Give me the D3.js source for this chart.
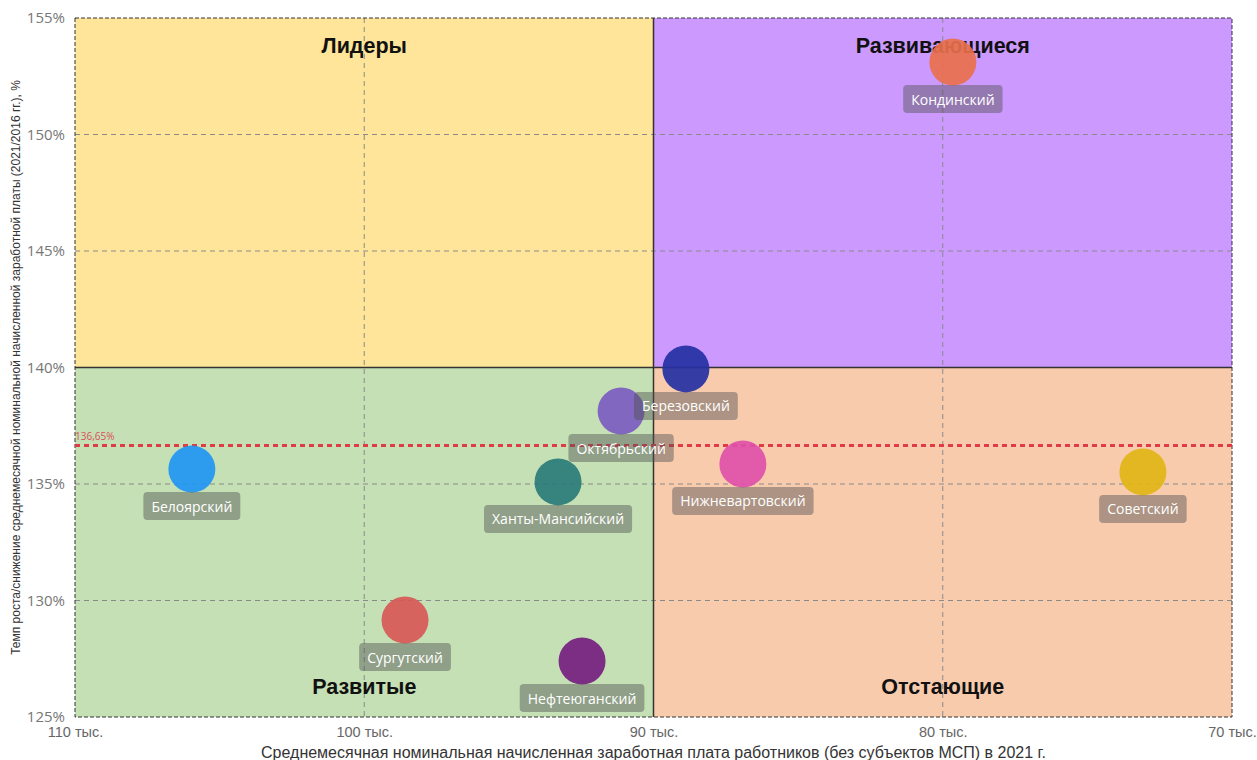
<!DOCTYPE html>
<html>
<head>
<meta charset="utf-8">
<script src="https://cdn.jsdelivr.net/npm/d3@7"></script>
<style>
  html, body { margin: 0; padding: 0; background: #fff; }
  svg { display: block; }
</style>
</head>
<body>
<svg id="chart" width="1257" height="760"></svg>
<script>
// ---- Data ----
const districts = ["Кондинский", "Березовский", "Октябрьский", "Нижневартовский", "Советский", "Белоярский", "Ханты-Мансийский", "Сургутский", "Нефтеюганский"];
const salary = [79.65, 88.88, 91.12, 86.91, 73.08, 105.96, 93.30, 98.59, 92.47];   // тыс. руб.
const growth = [153.11, 139.94, 138.13, 135.86, 135.52, 135.64, 135.09, 129.16, 127.40]; // %
const colors = ["#e8704c", "#2430a3", "#7c5cc2", "#e050a9", "#e0b516", "#2196f3", "#2a7b79", "#d85858", "#741e80"];
const xTicks = [110, 100, 90, 80, 70];
const yTicks = [125, 130, 135, 140, 145, 150, 155];
const avgGrowth = 136.65;
const xSplit = 90, ySplit = 140;
const quadrants = [
  {name: "Лидеры", x0: 110, x1: 90, y0: 155, y1: 140, fill: "#fee599"},
  {name: "Развивающиеся", x0: 90, x1: 70, y0: 155, y1: 140, fill: "#cc99ff"},
  {name: "Развитые", x0: 110, x1: 90, y0: 140, y1: 125, fill: "#c5e0b4"},
  {name: "Отстающие", x0: 90, x1: 70, y0: 140, y1: 125, fill: "#f8cbad"}
];

// ---- Layout ----
const svg = d3.select("#chart");
const m = {left: 75, right: 25, top: 18, bottom: 43};
const W = 1257, H = 760;
const x = d3.scaleLinear().domain([110, 70]).range([m.left, W - m.right]);
const y = d3.scaleLinear().domain([125, 155]).range([H - m.bottom, m.top]);

// quadrants
svg.append("g").selectAll("rect").data(quadrants).join("rect")
  .attr("x", d => x(d.x0)).attr("y", d => y(d.y0))
  .attr("width", d => x(d.x1) - x(d.x0)).attr("height", d => y(d.y1) - y(d.y0))
  .attr("fill", d => d.fill);

// grid
const grid = svg.append("g");
grid.selectAll("line.gx").data(xTicks.filter(t => t !== 110 && t !== 70 && t !== xSplit)).join("line")
  .attr("x1", d => x(d)).attr("x2", d => x(d)).attr("y1", y(155)).attr("y2", y(125))
  .attr("stroke", "#8a8a8a").attr("stroke-width", 1).attr("stroke-dasharray", "5,4");
grid.selectAll("line.gy").data(yTicks.filter(t => t !== 125 && t !== 155 && t !== ySplit)).join("line")
  .attr("y1", d => y(d)).attr("y2", d => y(d)).attr("x1", x(110)).attr("x2", x(70))
  .attr("stroke", "#8a8a8a").attr("stroke-width", 1).attr("stroke-dasharray", "5,4");

// outer dashed border
svg.append("rect")
  .attr("x", x(110)).attr("y", y(155)).attr("width", x(70) - x(110)).attr("height", y(125) - y(155))
  .attr("fill", "none").attr("stroke", "#333").attr("stroke-width", 1).attr("stroke-dasharray", "4,2");

// split lines
svg.append("line").attr("x1", x(xSplit)).attr("x2", x(xSplit)).attr("y1", y(155)).attr("y2", y(125))
  .attr("stroke", "#333").attr("stroke-width", 1.5);
svg.append("line").attr("x1", x(110)).attr("x2", x(70)).attr("y1", y(ySplit)).attr("y2", y(ySplit))
  .attr("stroke", "#333").attr("stroke-width", 1.5);

// average line
svg.append("line").attr("x1", x(110)).attr("x2", x(70)).attr("y1", y(avgGrowth)).attr("y2", y(avgGrowth))
  .attr("stroke", "#e03c48").attr("stroke-width", 3).attr("stroke-dasharray", "5,4");
svg.append("text").attr("x", x(110)).attr("y", y(avgGrowth) - 6)
  .attr("font-family", "'Open Sans', sans-serif").attr("font-size", 10).attr("fill", "#d9505a")
  .text(avgGrowth.toFixed(2).replace(".", ",") + "%");

// quadrant titles
const titlePos = [
  {x: 100, y: 46}, {x: 80, y: 46}, {x: 100, y: 687}, {x: 80, y: 687}
];
svg.append("g").selectAll("text").data(quadrants).join("text")
  .attr("x", (d, i) => x(titlePos[i].x)).attr("y", (d, i) => titlePos[i].y)
  .attr("text-anchor", "middle").attr("dominant-baseline", "central")
  .attr("font-family", "'Liberation Sans', Arial, sans-serif").attr("font-weight", "bold")
  .attr("font-size", 21.5).attr("fill", "#111")
  .text(d => d.name);

// axes
const xAxis = d3.axisBottom(x).tickValues(xTicks).tickFormat(d => d + " тыс.").tickSize(0).tickPadding(10);
const gx = svg.append("g").attr("transform", `translate(0,${y(125)})`).call(xAxis);
gx.select(".domain").remove();
gx.selectAll("text").attr("font-family", "'Liberation Sans', Arial, sans-serif").attr("font-size", 14.5).attr("fill", "#666");

const yAxis = d3.axisLeft(y).tickValues(yTicks).tickFormat(d => d + "%").tickSize(0).tickPadding(10);
const gy = svg.append("g").attr("transform", `translate(${x(110)},0)`).call(yAxis);
gy.select(".domain").remove();
gy.selectAll("text").attr("font-family", "'Open Sans', sans-serif").attr("font-size", 15).attr("fill", "#777");

// axis titles
svg.append("text").attr("x", (x(110) + x(70)) / 2).attr("y", 752)
  .attr("text-anchor", "middle").attr("dominant-baseline", "central")
  .attr("font-family", "'Liberation Sans', Arial, sans-serif").attr("font-size", 16).attr("fill", "#333")
  .text("Среднемесячная номинальная начисленная заработная плата работников (без субъектов МСП) в 2021 г.");
svg.append("text")
  .attr("transform", `translate(16,${(y(125) + y(155)) / 2}) rotate(-90)`)
  .attr("text-anchor", "middle").attr("dominant-baseline", "central")
  .attr("font-family", "'Liberation Sans', Arial, sans-serif").attr("font-size", 12).attr("fill", "#333")
  .text("Темп роста/снижение среднемесячной номинальной начисленной заработной платы (2021/2016 гг.), %");

// points
const pts = districts.map((n, i) => ({name: n, sx: salary[i], gy: growth[i], color: colors[i]}));
svg.append("g").selectAll("circle").data(pts).join("circle")
  .attr("cx", d => x(d.sx)).attr("cy", d => y(d.gy)).attr("r", 23.5)
  .attr("fill", d => d.color).attr("fill-opacity", 0.92);

// labels
const lg = svg.append("g");
pts.forEach(d => {
  const g = lg.append("g").attr("transform", `translate(${x(d.sx)},${y(d.gy) + 37})`);
  const t = g.append("text").attr("text-anchor", "middle").attr("dominant-baseline", "central")
    .attr("font-family", "'Open Sans', sans-serif").attr("font-size", 14).attr("fill", "#fff")
    .text(d.name);
  const bb = t.node().getBBox();
  g.insert("rect", "text")
    .attr("x", -bb.width / 2 - 8).attr("y", -14).attr("width", bb.width + 16).attr("height", 28)
    .attr("rx", 4).attr("fill", "rgba(80,80,80,0.45)");
});
</script>
</body>
</html>
